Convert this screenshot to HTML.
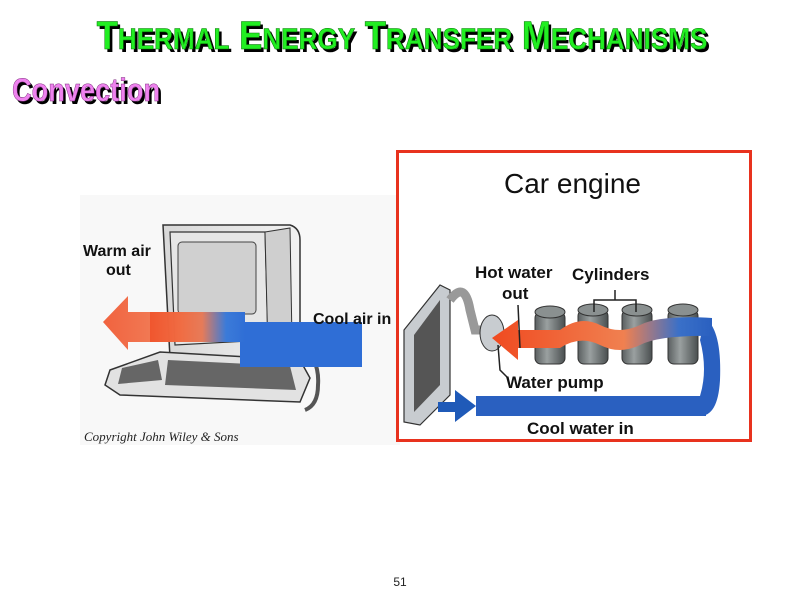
<!DOCTYPE html>
<html><head><meta charset="utf-8"><style>
html,body{margin:0;padding:0;background:#fff;width:800px;height:600px;overflow:hidden;font-family:"Liberation Sans",sans-serif}
</style></head><body>
<svg width="800" height="600" viewBox="0 0 800 600" xmlns="http://www.w3.org/2000/svg">
<defs>
<linearGradient id="air" x1="0" x2="1"><stop offset="0" stop-color="#f0522a"/><stop offset="0.55" stop-color="#f07a50"/><stop offset="0.8" stop-color="#3a7ad8"/><stop offset="1" stop-color="#2f6ed6"/></linearGradient>
<linearGradient id="wat" x1="0" x2="1"><stop offset="0" stop-color="#f04a20"/><stop offset="0.6" stop-color="#f08050"/><stop offset="0.85" stop-color="#3a70c8"/><stop offset="1" stop-color="#2a60c0"/></linearGradient>
<linearGradient id="cyl" x1="0" x2="1"><stop offset="0" stop-color="#5a5f60"/><stop offset="0.4" stop-color="#9aa0a0"/><stop offset="1" stop-color="#4a4f50"/></linearGradient>
<linearGradient id="mon" x1="0" x2="1"><stop offset="0" stop-color="#d8d8d8"/><stop offset="1" stop-color="#f2f2f2"/></linearGradient>
</defs>
<!-- title -->
<g font-family="Liberation Sans Narrow, Liberation Sans, sans-serif" font-weight="bold" transform="translate(402,0) scale(0.87,1)">
<text x="3" y="52" text-anchor="middle" fill="#000" font-size="40">T<tspan font-size="30">HERMAL</tspan> E<tspan font-size="30">NERGY</tspan> T<tspan font-size="30">RANSFER</tspan> M<tspan font-size="30">ECHANISMS</tspan></text>
<text x="0" y="49" text-anchor="middle" fill="#22ee22" stroke="#0a7a0a" stroke-width="0.6" font-size="40">T<tspan font-size="30">HERMAL</tspan> E<tspan font-size="30">NERGY</tspan> T<tspan font-size="30">RANSFER</tspan> M<tspan font-size="30">ECHANISMS</tspan></text>
</g>
<g font-family="Liberation Sans Narrow, Liberation Sans, sans-serif" font-weight="bold" transform="translate(12,0) scale(0.85,1)">
<text x="3" y="104" fill="#000" font-size="32">Convection</text>
<text x="0" y="101" fill="#ee82ee" stroke="#803080" stroke-width="0.5" font-size="32">Convection</text>
</g>

<!-- computer -->
<rect x="80" y="195" width="320" height="250" fill="#f8f8f8"/>
<path d="M163 225 L290 225 Q300 228 300 240 L300 345 L290 358 L170 358 Z" fill="url(#mon)" stroke="#333" stroke-width="1.5"/>
<path d="M170 232 L265 232 L268 340 L175 345 Z" fill="#e6e6e6" stroke="#333" stroke-width="1.2"/>
<rect x="178" y="242" width="78" height="72" rx="4" fill="#d0d0d0" stroke="#444"/>
<path d="M265 232 L290 228 L292 340 L268 352 Z" fill="#cfcfcf" stroke="#333"/>
<path d="M110 370 L160 352 L300 360 L310 378 L300 402 L120 395 L105 385 Z" fill="#e2e2e2" stroke="#333" stroke-width="1.5"/>
<path d="M122 368 L158 360 L162 380 L118 384 Z" fill="#666"/>
<path d="M168 360 L290 366 L296 390 L165 385 Z" fill="#666"/>
<path d="M300 340 Q320 360 318 385 Q318 405 305 410" fill="none" stroke="#555" stroke-width="4"/>
<rect x="240" y="322" width="122" height="45" fill="#2f6ed6"/>
<path d="M103 322 L128 296 L128 312 L245 312 L245 342 L128 342 L128 350 Z" fill="url(#air)" opacity="0.9"/>
<rect x="150" y="312" width="95" height="30" fill="url(#air)" opacity="0.9"/>
<g font-size="16" font-weight="bold" fill="#111" font-family="Liberation Sans Narrow, Liberation Sans, sans-serif">
<text x="83" y="256">Warm air</text>
<text x="106" y="275">out</text>
<text x="313" y="324">Cool air in</text>
</g>
<text x="84" y="441" font-family="Liberation Serif,serif" font-style="italic" font-size="13" fill="#222">Copyright John Wiley &amp; Sons</text>

<!-- car engine -->
<rect x="397.5" y="151.5" width="353" height="289" fill="#fff" stroke="#e8321e" stroke-width="3"/>
<text x="504" y="193" font-size="28" fill="#111">Car engine</text>
<!-- radiator -->
<path d="M404 330 L440 285 L450 290 L450 395 L420 425 L404 422 Z" fill="#c8ccd0" stroke="#333" stroke-width="1.2"/>
<path d="M414 335 L440 300 L440 385 L414 412 Z" fill="#555"/>
<path d="M450 300 Q465 280 470 310 L475 330 L488 330" fill="none" stroke="#999" stroke-width="9"/>
<ellipse cx="492" cy="333" rx="12" ry="18" fill="#c8ccd0" stroke="#333"/>
<!-- water path -->
<path d="M438 402 L455 402 L455 390 L476 406 L455 422 L455 412 L438 412 Z" fill="#1f5ab8"/>
<rect x="476" y="396" width="230" height="20" fill="#2a60c0"/>
<path d="M705 318 Q722 330 720 380 Q718 416 700 416 L700 396 Q708 370 700 340 Z" fill="#2a60c0"/>
<!-- cylinders -->
<g stroke="#333" stroke-width="1">
<rect x="535" y="312" width="30" height="52" rx="6" fill="url(#cyl)"/><ellipse cx="550" cy="312" rx="15" ry="6" fill="#8a9090"/>
<rect x="578" y="310" width="30" height="54" rx="6" fill="url(#cyl)"/><ellipse cx="593" cy="310" rx="15" ry="6" fill="#8a9090"/>
<rect x="622" y="310" width="30" height="54" rx="6" fill="url(#cyl)"/><ellipse cx="637" cy="310" rx="15" ry="6" fill="#8a9090"/>
<rect x="668" y="310" width="30" height="54" rx="6" fill="url(#cyl)"/><ellipse cx="683" cy="310" rx="15" ry="6" fill="#8a9090"/>
</g>
<path d="M492 338 L518 320 L518 330 L560 330 Q580 315 600 325 Q620 335 640 325 Q660 315 712 318 L712 336 Q660 335 640 345 Q620 355 600 345 Q580 335 560 348 L518 348 L518 360 Z" fill="url(#wat)"/>
<path d="M594 312 L594 300 L636 300 L636 312 M615 300 L615 290" fill="none" stroke="#222" stroke-width="1.5"/>
<path d="M518 305 L520 348 M498 345 L500 370 L508 378" fill="none" stroke="#222" stroke-width="1.5"/>
<g font-size="17" font-weight="bold" fill="#111" font-family="Liberation Sans Narrow, Liberation Sans, sans-serif">
<text x="475" y="278">Hot water</text>
<text x="502" y="299">out</text>
<text x="572" y="280">Cylinders</text>
<text x="506" y="388">Water pump</text>
<text x="527" y="434">Cool water in</text>
</g>
<text x="400" y="586" font-size="12" text-anchor="middle" fill="#222">51</text>
</svg>
</body></html>
